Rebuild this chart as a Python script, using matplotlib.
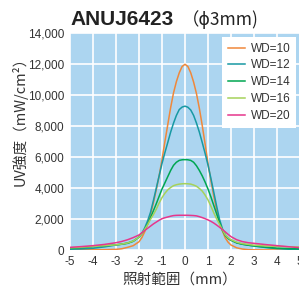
import matplotlib
matplotlib.use("Agg")
import matplotlib.pyplot as plt
from matplotlib.ticker import FuncFormatter

plt.rcParams['font.family'] = ['Liberation Sans', 'Noto Sans CJK JP', 'DejaVu Sans']

# position (mm)
x = [-5, -4.5, -4, -3.5, -3, -2.75, -2.5, -2.25,
     -2, -1.875, -1.75, -1.625, -1.5, -1.375, -1.25, -1.125,
     -1, -0.875, -0.75, -0.625, -0.5, -0.375, -0.25, -0.125,
     0, 0.125, 0.25, 0.375, 0.5, 0.625, 0.75, 0.875,
     1, 1.125, 1.25, 1.375, 1.5, 1.625, 1.75, 1.875, 2,
     2.25, 2.5, 2.75, 3, 3.5, 4, 4.5, 5]

wd10 = [30, 30, 30, 40, 60, 100, 190, 300,
        550, 820, 1200, 1700, 2300, 3050, 3900, 4800,
        5850, 7000, 8100, 9200, 10150, 10880, 11450, 11860,
        12000, 11860, 11450, 10850, 10100, 9150, 8050, 6850,
        5600, 4500, 3500, 2600, 1800, 1250, 800, 520, 340,
        160, 80, 40, 30, 25, 20, 20, 20]
wd12 = [70, 90, 130, 220, 340, 400, 470, 600,
        850, 1100, 1450, 1900, 2450, 3200, 4000, 4800,
        5600, 6300, 6950, 7620, 8200, 8700, 9080, 9240,
        9300, 9230, 9050, 8700, 8200, 7620, 6950, 6250,
        5500, 4650, 3750, 2850, 2000, 1400, 1000, 780, 650,
        480, 390, 330, 280, 180, 110, 70, 50]
wd14 = [120, 170, 230, 290, 350, 390, 450, 580,
        850, 1070, 1350, 1700, 2100, 2550, 3000, 3480,
        3950, 4350, 4750, 5150, 5480, 5680, 5800, 5840,
        5850, 5840, 5800, 5680, 5450, 5150, 4800, 4400,
        3950, 3450, 2900, 2350, 1800, 1300, 950, 760, 650,
        480, 390, 330, 280, 200, 140, 110, 90]
wd16 = [160, 200, 250, 300, 350, 400, 470, 600,
        850, 1080, 1350, 1650, 2000, 2300, 2650, 3050,
        3400, 3680, 3900, 4050, 4170, 4230, 4270, 4290,
        4300, 4290, 4270, 4210, 4130, 3990, 3820, 3560,
        3250, 2850, 2420, 2030, 1680, 1330, 1000, 810, 680,
        520, 430, 380, 330, 280, 250, 230, 210]
wd20 = [190, 240, 300, 380, 490, 570, 680, 820,
        990, 1130, 1280, 1420, 1560, 1700, 1820, 1940,
        2040, 2100, 2150, 2200, 2240, 2255, 2260, 2260,
        2260, 2258, 2250, 2240, 2220, 2170, 2110, 2040,
        1960, 1870, 1760, 1630, 1490, 1340, 1190, 1030, 880,
        680, 560, 490, 450, 370, 300, 230, 170]

labels = ['WD=10', 'WD=12', 'WD=14', 'WD=16', 'WD=20']
colors = ['#f0883a', '#1799a3', '#00a651', '#a6d25a', '#e6368c']
series = [wd10, wd12, wd14, wd16, wd20]

fig = plt.figure(figsize=(2.99, 2.94), dpi=100)
ax = fig.add_axes([70 / 299, 1 - 250.3 / 294, 230 / 299, 217 / 294])
ax.set_facecolor('#acd5f0')
for s in ax.spines.values():
    s.set_visible(False)

for vals, lab, c in zip(series, labels, colors):
    ax.plot(x, vals, color=c, lw=1.1, label=lab, zorder=3)

ax.set_xlim(-5, 5)
ax.set_ylim(0, 14000)
ax.set_xticks(range(-5, 6))
ax.set_yticks(range(0, 14001, 2000))
ax.xaxis.set_major_formatter(FuncFormatter(lambda v, p: '%d' % v if v >= 0 else '-%d' % -v))
ax.yaxis.set_major_formatter(FuncFormatter(lambda v, p: '{:,}'.format(int(v))))
ax.tick_params(length=0, labelsize=8.5, colors='#333333', pad=4)
ax.grid(True, color='white', lw=1.2)
ax.set_axisbelow(True)

leg = ax.legend(loc='upper right', fontsize=8.5, frameon=True, fancybox=False,
                borderaxespad=0.3, handlelength=1.4, handletextpad=0.5,
                labelspacing=0.4, borderpad=0.5)
leg.get_frame().set_facecolor('white')
leg.get_frame().set_edgecolor('none')
leg.get_frame().set_alpha(1)
for t in leg.get_texts():
    t.set_color('#333333')

fig.text(70 / 299, 1 - 25 / 294, 'ANUJ6423', fontsize=15, fontweight='bold',
         color='#222222', ha='left', va='baseline')
fig.text(182 / 299, 1 - 25 / 294, '（ϕ3mm)', fontsize=12.5, color='#222222',
         ha='left', va='baseline', family=['Noto Sans CJK JP', 'DejaVu Sans'])

fig.text(20 / 299, 1 - 118 / 294, 'UV強度（mW/cm²）', rotation=90, fontsize=10.5,
         color='#333333', ha='center', va='center', family=['Noto Sans CJK JP', 'DejaVu Sans'])
fig.text(180 / 299, 1 - 280 / 294, '照射範囲（mm）', fontsize=10.5, color='#333333',
         ha='center', va='center', family=['Noto Sans CJK JP', 'DejaVu Sans'])

fig.savefig('out.png', dpi=100)
